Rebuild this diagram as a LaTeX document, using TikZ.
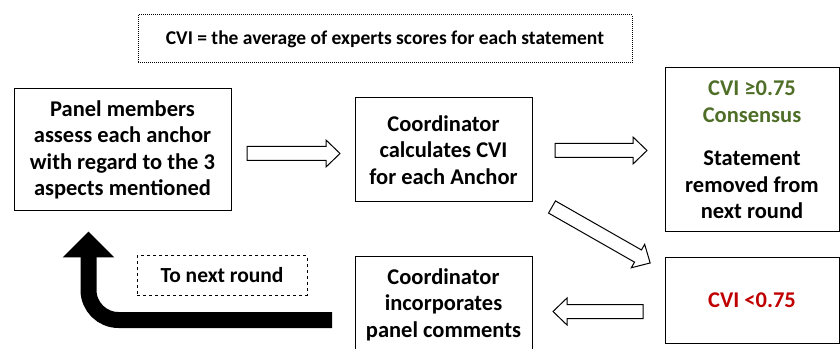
\documentclass[tikz,border=0pt]{standalone}
\usepackage{fontspec}
\setmainfont{Carlito}
\usetikzlibrary{calc,arrows.meta}

\definecolor{cvigreen}{RGB}{79,110,40}
\definecolor{cvired}{RGB}{192,0,0}

\tikzset{
  stage/.style={draw, line width=1pt, align=center, inner sep=0pt,
    font=\bfseries\fontsize{22.5}{26.5}\selectfont},
  pics/harrow/.style={code={
    \draw[line width=1pt, fill=white] (0,-7) -- (#1-14,-7) -- (#1-14,-13.5)
      -- (#1,0) -- (#1-14,13.5) -- (#1-14,7) -- (0,7) -- cycle;}},
  bigarrow/.style={line width=16pt, rounded corners=30pt,
    -{Triangle[length=26pt,width=50pt]}}
}

\begin{document}
\begin{tikzpicture}[x=1pt,y=1pt]
  \useasboundingbox (0,0) rectangle (840,348);
  % definition at the top
  \node[stage, dash pattern=on 1pt off 1pt, minimum width=494pt, minimum height=48pt,
    font=\bfseries\fontsize{19.5}{24}\selectfont] (cvidef) at (385,309)
    {CVI = the average of experts scores for each statement};
  % the boxes
  \node[stage, minimum width=217pt, minimum height=122pt] (panel) at (122.5,198)
    {Panel members\\assess each anchor\\with regard to the 3\\aspects mentioned};
  \node[stage, minimum width=177pt, minimum height=104pt] (calc) at (443.5,198)
    {Coordinator\\calculates CVI\\for each Anchor};
  \node[stage, minimum width=174pt, minimum height=164pt] (cons) at (752,198)
    {\textcolor{cvigreen}{CVI ≥0.75}\\\textcolor{cvigreen}{Consensus}\\[17pt]Statement\\removed from\\next round};
  \node[stage, minimum width=174pt, minimum height=85pt] (low) at (752,47.5)
    {\textcolor{cvired}{CVI <0.75}};
  \node[stage, minimum width=177pt, minimum height=95pt] (incorp) at (443.5,43.5)
    {Coordinator\\incorporates\\panel comments};
  \node[stage, dashed, minimum width=170pt, minimum height=39pt,
    font=\bfseries\fontsize{21.5}{24}\selectfont] (nextround) at (222,72.5) {To next round};
  % hollow arrows
  \pic (arr1) at (247,194.5) {harrow=93};
  \pic (arr2) at (555,197.5) {harrow=92};
  \pic[rotate=-29.7] (arr3) at (552,141) {harrow=113};
  \pic[rotate=180] (arr4) at (643,36.5) {harrow=90};
  % back to the panel
  \coordinate (back) at (332,28);
  \draw[bigarrow] (back) -| ($(panel.south)+(-34,-20)$);
\end{tikzpicture}
\end{document}
